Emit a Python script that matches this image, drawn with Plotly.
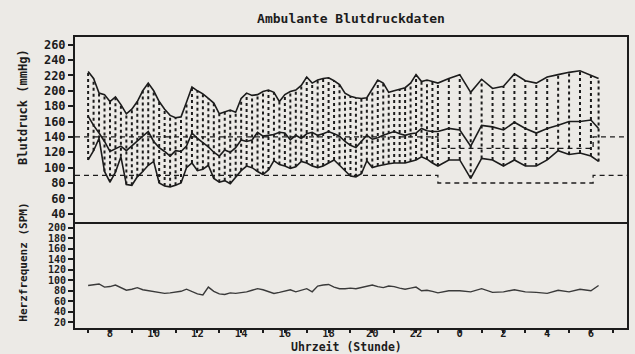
import plotly.graph_objects as go

# measurement times (hours, continuous past midnight: 24 = 0 h, 30 = 6 h)
times = [7.0, 7.25, 7.5, 7.75, 8.0, 8.25, 8.5, 8.75, 9.0, 9.25, 9.5, 9.75,
         10.0, 10.25, 10.5, 10.75, 11.0, 11.25, 11.5, 11.75, 12.0, 12.25, 12.5, 12.75,
         13.0, 13.25, 13.5, 13.75, 14.0, 14.25, 14.5, 14.75, 15.0, 15.25, 15.5, 15.75,
         16.0, 16.25, 16.5, 16.75, 17.0, 17.25, 17.5, 17.75, 18.0, 18.25, 18.5, 18.75,
         19.0, 19.25, 19.5, 19.75, 20.0, 20.25, 20.5, 20.75, 21.0, 21.25, 21.5, 21.75,
         22.0, 22.25, 22.5, 22.75, 23.0,
         23.5, 24.0, 24.5, 25.0, 25.5, 26.0, 26.5, 27.0, 27.5, 28.0, 28.5, 29.0, 29.5, 30.0,
         30.35]

systolic = [225, 216, 197, 195, 186, 192, 182, 170, 176, 186, 200, 210,
            200, 186, 176, 168, 165, 166, 185, 205, 200, 196, 190, 184,
            170, 173, 175, 172, 190, 197, 194, 195, 199, 201, 198, 186,
            195, 199, 201, 207, 218, 210, 214, 216, 217, 213, 208, 197,
            193, 191, 190, 191, 202, 214, 210, 198, 200, 202, 204, 210,
            221, 212, 214, 212, 210,
            216, 221, 198, 215, 203, 206, 222, 213, 210, 218, 221, 224, 226, 220,
            216]

middle = [167, 155, 145, 134, 121, 124, 128, 122, 128, 134, 140, 147,
          134, 126, 121, 115, 122, 121, 128, 145, 138, 133, 127, 120,
          115, 123, 120, 126, 136, 134, 136, 146, 141, 142, 143, 146,
          145, 136, 142, 138, 144, 146, 142, 144, 147, 144, 141, 134,
          129, 126, 134, 142, 137, 139, 142, 145, 147, 144, 142, 144,
          145, 151, 148, 147, 147,
          151, 149, 128, 155, 153, 149, 159, 151, 145, 151, 155, 160, 160, 162,
          151]

diastolic = [110, 122, 138, 95, 81, 94, 114, 78, 77, 88, 95, 103,
             108, 80, 76, 75, 77, 80, 100, 106, 96, 98, 103, 86,
             81, 83, 79, 88, 96, 102, 100, 95, 91, 97, 109, 104,
             102, 99, 101, 108, 106, 102, 100, 102, 106, 110, 103, 96,
             89, 88, 92, 109, 100, 102, 104, 105, 106, 106, 106, 108,
             110, 114, 111, 106, 102,
             110, 110, 86, 112, 110, 102, 110, 102, 102, 110, 122, 117, 119, 115,
             108]

heart_rate = [90, 91, 93, 87, 88, 91, 86, 81, 83, 86, 82, 80,
              79, 77, 75, 76, 77, 79, 83, 79, 74, 72, 87, 79,
              74, 73, 76, 75, 76, 78, 81, 84, 82, 78, 75, 77,
              80, 82, 78, 81, 84, 78, 89, 91, 92, 87, 84, 84,
              85, 84, 86, 89, 91, 88, 86, 89, 88, 85, 83, 85,
              87, 80, 81, 79, 76,
              80, 80, 78, 84, 77, 78, 82, 78, 77, 75, 81, 78, 83, 80,
              90]

# day / night limit lines (step)
limit_times = [6.4, 23.0, 30.1, 31.65]
limit_sys = [140, 125, 140, 140]
limit_dia = [90, 80, 90, 90]

x_tick_vals = [8, 10, 12, 14, 16, 18, 20, 22, 24, 26, 28, 30]
x_tick_text = ["8", "10", "12", "14", "16", "18", "20", "22", "0", "2", "4", "6"]
bp_ticks = [40, 60, 80, 100, 120, 140, 160, 180, 200, 220, 240, 260]
hr_ticks = [20, 40, 60, 80, 100, 120, 140, 160, 180, 200]

BG = "#ECEAE6"
INK = "#1c1c1c"
FONT = "DejaVu Sans Mono"

fig = go.Figure()

# limit lines
for lim in (limit_sys, limit_dia):
    fig.add_trace(go.Scatter(x=limit_times, y=lim, mode="lines", line_shape="hv",
                             line=dict(color=INK, width=1.3, dash="5px,4px"),
                             xaxis="x", yaxis="y", hoverinfo="skip", showlegend=False))

# dotted vertical hatching between diastolic and systolic at each reading
seg_x, seg_y = [], []
for t, lo, hi in zip(times, diastolic, systolic):
    seg_x += [t, t, None]
    seg_y += [lo, hi, None]
fig.add_trace(go.Scatter(x=seg_x, y=seg_y, mode="lines",
                         line=dict(color=INK, width=2, dash="3px,3px"),
                         xaxis="x", yaxis="y", hoverinfo="skip", showlegend=False))

for series in (systolic, middle, diastolic):
    fig.add_trace(go.Scatter(x=times, y=series, mode="lines",
                             line=dict(color=INK, width=1.6),
                             xaxis="x", yaxis="y", showlegend=False))

fig.add_trace(go.Scatter(x=times, y=heart_rate, mode="lines",
                         line=dict(color="#3a3a3a", width=1.4),
                         xaxis="x2", yaxis="y2", showlegend=False))

split = 0.3653
base = dict(showline=True, linecolor=INK, linewidth=2,
            showgrid=False, zeroline=False, automargin=False)

fig.update_layout(
    width=635, height=354,
    margin=dict(l=75, r=8, t=37, b=26, autoexpand=False),
    paper_bgcolor=BG, plot_bgcolor=BG,
    font=dict(family=FONT, color=INK, size=12),
    showlegend=False,
    xaxis=dict(domain=[0, 1], anchor="y", range=[6.4, 31.65], showticklabels=False,
               ticks="", mirror=True, **base),
    yaxis=dict(domain=[split, 1], anchor="x", range=[29.6, 270], tickvals=bp_ticks,
               ticks="outside", ticklen=5, tickwidth=1.5, tickcolor=INK,
               ticklabelstandoff=0, mirror=True,
               tickfont=dict(family=FONT, size=12, color=INK, weight="bold"),
               **base),
    xaxis2=dict(domain=[0, 1], anchor="y2", matches="x", range=[6.4, 31.65],
                tickvals=x_tick_vals, ticktext=x_tick_text,
                ticks="outside", ticklen=3, tickwidth=1.5, tickcolor=INK,
                minor=dict(dtick=1, tick0=0, ticks="outside", ticklen=3, tickwidth=1.5, tickcolor=INK),
                ticklabelstandoff=-9, mirror=False,
                tickfont=dict(family=FONT, size=10.5, color=INK, weight="bold"),
                **base),
    yaxis2=dict(domain=[0, split], anchor="x2", range=[9.2, 211.4], tickvals=hr_ticks,
                ticks="outside", ticklen=5, tickwidth=1.5, tickcolor=INK,
                ticklabelstandoff=0, mirror=True,
                tickfont=dict(family=FONT, size=10, color=INK, weight="bold"),
                **base),
    title=dict(text="Ambulante Blutdruckdaten", x=0.5, xref="paper", xanchor="center",
               y=1 - 18 / 354, yref="container", yanchor="middle",
               font=dict(family=FONT, size=13, color=INK, weight="bold")),
    annotations=[
        dict(text="Blutdruck (mmHg)", xref="paper", yref="paper", x=-0.094, y=0.76,
             textangle=-90, showarrow=False, xanchor="center", yanchor="middle",
             font=dict(family=FONT, size=12, color=INK, weight="bold")),
        dict(text="Herzfrequenz (SPM)", xref="paper", yref="paper", x=-0.094, y=0.225,
             textangle=-90, showarrow=False, xanchor="center", yanchor="middle",
             font=dict(family=FONT, size=11, color=INK, weight="bold")),
        dict(text="Uhrzeit (Stunde)", xref="paper", yref="paper", x=0.491, y=-0.066,
             showarrow=False, xanchor="center", yanchor="middle",
             font=dict(family=FONT, size=11.5, color=INK, weight="bold")),
    ],
)

fig.write_html("out.html")
